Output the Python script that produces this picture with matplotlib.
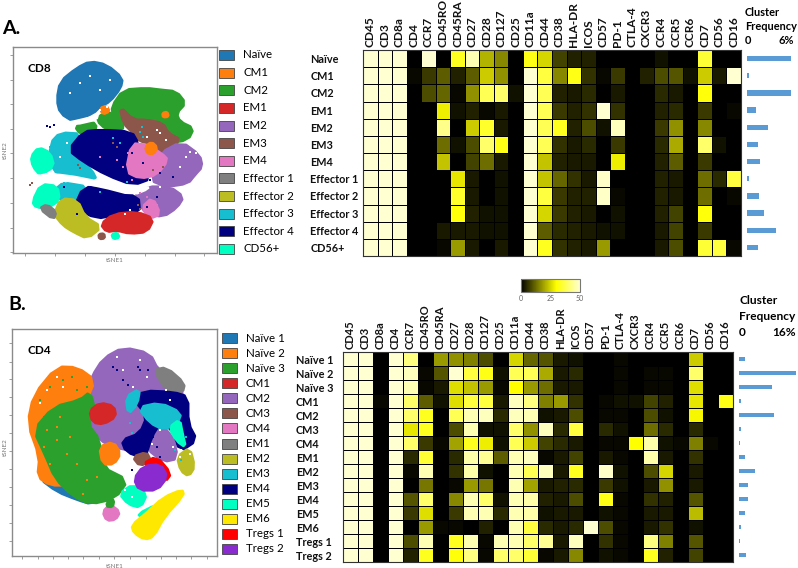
import numpy as np
import matplotlib
matplotlib.use('Agg')
import matplotlib.pyplot as plt
from matplotlib.colors import LinearSegmentedColormap
from matplotlib.cm import ScalarMappable
from matplotlib.colors import Normalize
from matplotlib.patches import Rectangle

plt.rcParams['font.family'] = ['Lato', 'DejaVu Sans']

W, H = 798, 568

markers = ['CD45', 'CD3', 'CD8a', 'CD4', 'CCR7', 'CD45RO', 'CD45RA', 'CD27', 'CD28', 'CD127', 'CD25',
           'CD11a', 'CD44', 'CD38', 'HLA-DR', 'ICOS', 'CD57', 'PD-1', 'CTLA-4', 'CXCR3', 'CCR4', 'CCR5',
           'CCR6', 'CD7', 'CD56', 'CD16']

cd8_names = ['Naïve', 'CM1', 'CM2', 'EM1', 'EM2', 'EM3', 'EM4', 'Effector 1', 'Effector 2', 'Effector 3',
             'Effector 4', 'CD56+']
cd8_colors = ['#1f77b4', '#ff7f0e', '#2ca02c', '#d62728', '#9467bd', '#8c564b', '#e377c2', '#7f7f7f',
              '#bcbd22', '#17becf', '#000080', '#00ffc0']
cd8_heat = [
    [50, 50, 50, 0, 50, 0, 33, 47, 21, 16, 0, 32, 25, 8, 4, 4, 0, 0, 0, 0, 2, 0, 0, 35, 0, 0],
    [50, 50, 50, 1, 7, 11, 4, 11, 24, 17, 0, 50, 36, 16, 32, 6, 1, 7, 0, 4, 9, 10, 2, 24, 3, 50],
    [50, 50, 50, 0, 9, 12, 1, 17, 38, 40, 2, 50, 38, 4, 3, 5, 0, 3, 0, 0, 5, 3, 0, 31, 0, 0],
    [50, 50, 50, 0, 0, 28, 2, 4, 1, 3, 0, 50, 38, 7, 4, 6, 50, 6, 0, 0, 4, 5, 0, 7, 0, 1],
    [50, 50, 50, 0, 0, 43, 0, 24, 34, 3, 0, 50, 38, 33, 4, 9, 2, 48, 0, 0, 7, 17, 0, 16, 0, 0],
    [50, 50, 50, 0, 0, 13, 2, 9, 40, 32, 0, 50, 38, 6, 3, 5, 0, 7, 0, 0, 5, 20, 0, 40, 2, 0],
    [50, 50, 50, 0, 0, 23, 0, 8, 13, 3, 0, 50, 23, 4, 3, 3, 0, 28, 0, 0, 4, 11, 0, 7, 0, 0],
    [50, 50, 50, 0, 0, 0, 27, 3, 0, 2, 0, 50, 23, 12, 6, 3, 49, 0, 0, 0, 4, 3, 0, 13, 5, 36],
    [50, 50, 50, 0, 0, 0, 34, 3, 0, 2, 0, 50, 36, 7, 4, 4, 49, 1, 0, 0, 4, 3, 0, 13, 0, 1],
    [50, 50, 50, 0, 0, 0, 31, 4, 2, 2, 0, 50, 25, 7, 4, 3, 0, 2, 0, 0, 4, 8, 0, 31, 0, 0],
    [50, 50, 50, 0, 0, 3, 3, 3, 2, 2, 0, 50, 11, 5, 4, 3, 2, 2, 0, 0, 3, 8, 0, 7, 0, 0],
    [50, 50, 50, 0, 0, 1, 18, 3, 0, 3, 0, 50, 33, 6, 4, 3, 18, 0, 0, 0, 3, 9, 0, 35, 36, 1],
]
cd8_freq = [5.8, 0.3, 5.9, 1.2, 2.8, 1.5, 1.7, 0.3, 1.6, 2.3, 3.9, 1.5]

cd4_names = ['Naïve 1', 'Naïve 2', 'Naïve 3', 'CM1', 'CM2', 'CM3', 'CM4', 'EM1', 'EM2', 'EM3', 'EM4', 'EM5',
             'EM6', 'Tregs 1', 'Tregs 2']
cd4_colors = ['#1f77b4', '#ff7f0e', '#2ca02c', '#d62728', '#9467bd', '#8c564b', '#e377c2', '#7f7f7f',
              '#bcbd22', '#17becf', '#000080', '#00ffc0', '#ffe800', '#ff0000', '#8a2bd0']
cd4_heat = [
    [50, 50, 0, 50, 42, 0, 18, 17, 15, 9, 0, 25, 12, 10, 3, 2, 0, 0, 1, 0, 0, 0, 0, 24, 0, 0],
    [50, 50, 0, 50, 48, 1, 10, 50, 36, 32, 2, 38, 38, 20, 3, 5, 0, 0, 1, 0, 1, 1, 0, 40, 0, 0],
    [50, 50, 0, 50, 47, 1, 3, 26, 23, 18, 1, 30, 18, 13, 3, 3, 0, 0, 1, 0, 1, 1, 0, 26, 0, 0],
    [50, 50, 1, 50, 40, 11, 2, 26, 36, 36, 3, 48, 42, 15, 18, 6, 0, 1, 2, 2, 8, 4, 0, 27, 0, 32],
    [50, 50, 0, 50, 40, 33, 0, 38, 47, 48, 5, 48, 47, 2, 3, 9, 0, 1, 1, 0, 9, 2, 0, 29, 0, 0],
    [50, 50, 0, 50, 27, 33, 0, 9, 47, 2, 2, 40, 17, 48, 5, 36, 0, 5, 2, 0, 13, 5, 0, 5, 0, 0],
    [50, 50, 0, 50, 40, 7, 1, 19, 33, 28, 2, 38, 24, 8, 5, 3, 0, 1, 1, 30, 46, 2, 1, 15, 1, 0],
    [50, 50, 0, 50, 5, 35, 0, 5, 46, 44, 11, 47, 48, 1, 3, 8, 0, 3, 1, 0, 46, 3, 0, 6, 0, 0],
    [50, 50, 0, 50, 1, 47, 0, 6, 46, 2, 0, 47, 38, 48, 3, 33, 0, 49, 2, 0, 9, 25, 0, 3, 0, 0],
    [50, 50, 0, 50, 0, 14, 0, 1, 18, 14, 0, 47, 19, 3, 4, 5, 0, 7, 2, 0, 3, 17, 0, 3, 0, 0],
    [50, 50, 0, 50, 10, 40, 0, 16, 47, 40, 2, 47, 46, 4, 3, 9, 0, 32, 1, 0, 6, 4, 0, 10, 0, 0],
    [50, 50, 0, 50, 7, 26, 0, 7, 47, 47, 5, 47, 46, 2, 3, 3, 0, 2, 1, 0, 3, 3, 0, 22, 0, 0],
    [50, 50, 0, 50, 0, 18, 1, 1, 0, 4, 0, 47, 36, 5, 3, 5, 50, 9, 1, 0, 3, 6, 0, 2, 0, 0],
    [50, 50, 0, 50, 9, 47, 0, 33, 47, 1, 47, 47, 40, 44, 3, 48, 0, 6, 1, 0, 42, 15, 0, 10, 0, 0],
    [50, 50, 0, 50, 4, 33, 0, 31, 42, 1, 40, 40, 35, 1, 3, 16, 0, 2, 1, 0, 33, 4, 0, 8, 0, 0],
]
cd4_freq = [1.7, 16, 9.3, 0.6, 9.9, 0.6, 0.4, 1.8, 4.6, 2.4, 2.6, 1.8, 0.6, 0.4, 1.9]

# tSNE cluster outlines, (colour name, outline), back to front
cd8_regions = [
    ('Naïve', [(170, 270), (180, 215), (230, 175), (270, 155), (320, 165), (368, 205), (362, 235), (330, 275),
               (300, 290), (280, 310), (220, 335), (180, 310)]),
    ('CM2', [(335, 290), (370, 240), (440, 235), (480, 240), (530, 245), (558, 280), (530, 310), (540, 335),
             (582, 355), (565, 390), (500, 400), (480, 360), (440, 335), (390, 330), (340, 320)]),
    ('CM2', [(225, 350), (255, 338), (290, 340), (282, 375), (240, 372)]),
    ('CM2', [(290, 320), (340, 305), (378, 350), (340, 368), (300, 345)]),
    ('EM3', [(360, 290), (400, 330), (440, 330), (490, 340), (505, 370), (545, 390), (490, 435), (460, 400),
             (420, 395), (400, 370), (370, 340)]),
    ('Effector 3', [(150, 400), (180, 368), (245, 372), (225, 430), (275, 480), (290, 510), (220, 505), (150, 480)]),
    ('Effector 4', [(205, 420), (250, 365), (300, 360), (395, 365), (415, 400), (415, 450), (455, 505), (400, 525),
                    (320, 495), (250, 455)]),
    ('EM2', [(450, 510), (480, 430), (545, 395), (600, 435), (608, 470), (585, 495), (565, 520), (500, 530)]),
    ('EM4', [(378, 485), (395, 400), (440, 405), (485, 430), (505, 450), (470, 495), (420, 505)]),
    ('CD56+', [(92, 440), (115, 412), (150, 428), (162, 470), (120, 495), (98, 470)]),
    ('Effector 3', [(165, 525), (240, 515), (260, 545), (225, 580), (175, 570)]),
    ('CD56+', [(96, 575), (122, 522), (172, 528), (178, 570), (145, 592), (108, 592)]),
    ('EM2', [(400, 560), (440, 530), (510, 530), (552, 560), (532, 592), (490, 620), (440, 610)]),
    ('Effector 4', [(222, 592), (250, 530), (310, 535), (415, 555), (420, 610), (340, 615), (290, 625)]),
    ('EM4', [(425, 592), (458, 562), (482, 612), (450, 625)]),
    ('Effector 2', [(162, 612), (182, 565), (232, 570), (255, 620), (305, 650), (262, 685), (220, 665), (188, 645)]),
    ('Effector 1', [(118, 595), (140, 583), (168, 605), (160, 628)]),
    ('EM1', [(302, 642), (340, 612), (410, 605), (462, 625), (442, 665), (390, 670), (350, 660), (320, 665)]),
    ('CM1', [(300, 295), (320, 288), (328, 305), (308, 313)]),
    ('CM1', [(436, 410), (455, 396), (472, 412), (462, 432), (442, 430)]),
    ('CM1', [(488, 310), (502, 306), (506, 320), (490, 322)]),
    ('CD56+', [(335, 672), (352, 668), (358, 682), (340, 686)]),
    ('EM3', [(296, 672), (312, 670), (314, 684), (298, 686)]),
]
cd8_gaps = [
    [(120, 488), (200, 492), (300, 512), (400, 542), (445, 525), (450, 538), (400, 558), (300, 532), (200, 515),
     (130, 505)],
    [(190, 338), (260, 322), (298, 312), (292, 332), (222, 348)],
]
# stray points scattered over other clusters
cd8_specks = {
    'Effector 4': ([140, 150, 160, 480, 450, 520, 430, 395, 370, 350, 415, 230, 190, 470, 440],
                   [348, 352, 345, 490, 510, 500, 460, 430, 590, 600, 575, 610, 530, 560, 590]),
    'Effector 3': ([420, 430, 425, 340, 360, 190, 205, 150, 160, 380, 300],
                   [365, 380, 350, 385, 400, 520, 540, 410, 430, 515, 545]),
    'EM4': ([350, 370, 385, 420, 300, 470, 395, 440], [450, 470, 430, 550, 440, 585, 510, 560]),
    'EM3': ([340, 350, 235, 240, 95, 90, 490, 460, 415, 420], [400, 410, 465, 475, 518, 525, 470, 480, 585, 595]),
    'white': ([240, 270, 300, 210, 330, 480, 500, 440, 470, 560, 570, 590, 300, 320, 180, 200, 175, 480, 375, 390, 540],
              [220, 200, 240, 250, 210, 370, 390, 380, 360, 440, 425, 430, 300, 290, 440, 400, 520, 530, 610, 600, 470]),
}

cd4_regions = [
    ('Naïve 1', [(118, 565), (170, 552), (200, 590), (275, 622), (275, 642), (230, 628), (170, 604)]),
    ('CM2', [(275, 260), (310, 205), (370, 172), (450, 190), (475, 240), (545, 295), (550, 330), (450, 350),
             (420, 440), (385, 480), (340, 470), (300, 450), (260, 400), (270, 340), (250, 330)]),
    ('Naïve 2', [(82, 400), (100, 315), (170, 230), (232, 232), (285, 270), (255, 340), (200, 420), (170, 520),
                 (205, 585), (150, 585), (112, 560), (118, 500)]),
    ('Naïve 3', [(100, 420), (160, 350), (240, 330), (270, 305), (285, 360), (262, 400), (300, 450), (305, 530),
                 (385, 570), (345, 625), (270, 642), (215, 615), (165, 565), (135, 495)]),
    ('EM1', [(462, 240), (500, 232), (555, 280), (548, 308), (500, 302)]),
    ('CM1', [(268, 362), (300, 338), (342, 348), (348, 380), (310, 402), (278, 397)]),
    ('Naïve 2', [(298, 470), (340, 455), (362, 490), (342, 522), (308, 522)]),
    ('CM2', [(440, 475), (455, 405), (515, 425), (535, 505), (490, 515)]),
    ('EM4', [(405, 332), (430, 302), (520, 306), (565, 320), (565, 400), (592, 450), (540, 485), (520, 420),
             (480, 400), (455, 440), (435, 505), (378, 485), (365, 450), (420, 430), (442, 378)]),
    ('EM3', [(415, 352), (480, 338), (545, 368), (532, 402), (490, 418), (450, 398)]),
    ('EM3', [(378, 320), (420, 296), (412, 342), (385, 372)]),
    ('EM5', [(508, 412), (540, 388), (548, 430), (558, 472), (530, 452)]),
    ('EM5', [(358, 610), (400, 582), (442, 610), (422, 652), (385, 642)]),
    ('EM2', [(532, 500), (570, 472), (585, 530), (567, 558), (543, 542)]),
    ('CM3', [(398, 500), (440, 486), (452, 510), (420, 528)]),
    ('Tregs 1', [(428, 522), (470, 498), (514, 550), (497, 574), (470, 528)]),
    ('Tregs 2', [(402, 566), (430, 528), (482, 522), (503, 560), (472, 600), (418, 600)]),
    ('CM4', [(308, 665), (330, 642), (360, 665), (347, 688), (320, 691)]),
    ('Naïve 3', [(318, 648), (328, 625), (342, 630), (338, 650)]),
    ('EM5', [(413, 672), (470, 643), (482, 655), (430, 682)]),
    ('EM6', [(395, 705), (440, 668), (490, 622), (547, 598), (552, 615), (492, 682), (462, 738), (435, 748),
             (402, 728)]),
]
cd4_gaps = [
    [(363, 510), (385, 498), (392, 527), (370, 532)],
]
cd4_specks = {
    'EM4': ([340, 350, 415, 420, 370, 385, 460, 470, 445, 480, 395], [230, 240, 230, 240, 270, 285, 440, 470, 240, 500, 540]),
    'Naïve 2': ([140, 170, 200, 230, 260, 130, 150, 180, 290, 250, 210, 170],
                [420, 450, 490, 520, 570, 470, 520, 380, 560, 610, 440, 410]),
    'Naïve 3': ([120, 150, 190, 230, 215, 255, 130, 260], [330, 290, 270, 300, 260, 320, 380, 290]),
    'EM3': ([390, 395, 525, 545, 560], [400, 430, 480, 510, 440]),
    'white': ([140, 170, 190, 120, 350, 370, 420, 440, 400, 500, 510, 540, 480, 455, 520, 545, 570, 375, 395, 400],
              [300, 260, 290, 340, 200, 240, 210, 260, 290, 300, 330, 500, 420, 460, 470, 480, 490, 600, 620, 560]),
}

heat_cmap = LinearSegmentedColormap.from_list('heat', [(0, '#000000'), (0.6, '#ffff00'), (1, '#ffffd2')])


def px_axes(fig, x0, y0, x1, y1, **kw):
    # axes from pixel box, y counted from the top like in the image
    return fig.add_axes([x0 / W, 1 - y1 / H, (x1 - x0) / W, (y1 - y0) / H], **kw)


def smooth(points, n=1):
    # corner cutting so the blobs are not angular
    p = np.array(points, dtype=float)
    for _ in range(n):
        q = np.roll(p, -1, axis=0)
        p = np.column_stack([0.75 * p + 0.25 * q, 0.25 * p + 0.75 * q]).reshape(-1, 2)
    return p


def draw_map(ax, regions, gaps, specks, names, colors, xlim, ylim, xticks, yticks):
    lookup = dict(zip(names, colors))
    lookup['white'] = 'white'
    for name, outline in regions:
        p = smooth(outline)
        ax.fill(p[:, 0], p[:, 1], color=lookup[name], lw=2, joinstyle='round')
    for outline in gaps:
        p = smooth(outline)
        ax.fill(p[:, 0], p[:, 1], color='white', lw=0)
    for name, (xs, ys) in specks.items():
        ax.scatter(xs, ys, s=1.6, color=lookup[name], lw=0, marker='s')
    ax.set_xlim(xlim)
    ax.set_ylim(ylim)
    ax.set_xticks(xticks)
    ax.set_yticks(yticks)
    ax.set_xticklabels([])
    ax.set_yticklabels([])
    ax.tick_params(length=2.5, width=0.5, color='#777777')
    for s in ax.spines.values():
        s.set_color('#8a8a8a')
        s.set_linewidth(1)


def draw_heat(ax, values, rows, pad, size):
    ax.pcolormesh(values, cmap=heat_cmap, vmin=0, vmax=50, edgecolors='#000000', linewidth=0.5)
    ax.set_ylim(len(rows), 0)
    ax.set_xticks(np.arange(len(markers)) + 0.5)
    ax.set_xticklabels(markers, rotation=90, fontsize=size, fontweight='bold', color='#111111')
    ax.xaxis.tick_top()
    ax.set_yticks(np.arange(len(rows)) + 0.5)
    ax.set_yticklabels(rows, fontsize=7.8, fontweight='bold', ha='left', color='#111111')
    ax.tick_params(axis='x', length=0, pad=2)
    ax.tick_params(axis='y', length=0, pad=pad)
    for s in ax.spines.values():
        s.set_color('#333333')


def draw_freq(ax, freq, vmax, height):
    ax.barh(np.arange(len(freq)) + 0.5, freq, height=height, color='#5b9bd5')
    ax.set_xlim(0, vmax)
    ax.set_ylim(len(freq), 0)
    ax.axis('off')


fig = plt.figure(figsize=(W / 100, H / 100), dpi=100)

# maps, tSNE units are the reading grid of the crop
ax = px_axes(fig, 13, 47, 217, 253)
draw_map(ax, cd8_regions, cd8_gaps, cd8_specks, cd8_names, cd8_colors, (38, 652), (728, 112),
         [75, 165, 255, 345, 435, 525, 613], [137, 210, 283, 357, 430, 505, 578, 652, 725])
ax = px_axes(fig, 12, 329, 217, 556)
draw_map(ax, cd4_regions, cd4_gaps, cd4_specks, cd4_names, cd4_colors, (35, 652), (797, 117),
         [65, 112, 158, 205, 250, 296, 343, 390, 437, 483, 530, 575, 622],
         [160, 215, 268, 322, 376, 430, 483, 537, 591, 645, 698, 752])

# heatmaps and bars
ax = px_axes(fig, 363, 50, 741, 256)
draw_heat(ax, cd8_heat, cd8_names, 38, 8.6)
ax = px_axes(fig, 343, 352, 733, 562)
draw_heat(ax, cd4_heat, cd4_names, 34, 8.0)
ax = px_axes(fig, 747, 50, 792, 256)
draw_freq(ax, cd8_freq, 6, 0.32)
ax = px_axes(fig, 739, 352, 796, 562)
draw_freq(ax, cd4_freq, 16, 0.3)

# colour key
cax = px_axes(fig, 521, 279, 580, 292)
cb = fig.colorbar(ScalarMappable(Normalize(0, 50), heat_cmap), cax=cax, orientation='horizontal')
cb.set_ticks([0, 25, 50])
cb.ax.tick_params(labelsize=5, length=0, pad=2, labelcolor='#666666')
cb.outline.set_edgecolor('#777777')

# everything else goes on a pixel overlay
ov = fig.add_axes([0, 0, 1, 1], zorder=5)
ov.set_xlim(0, W)
ov.set_ylim(H, 0)
ov.axis('off')


def legend(names, colors, x, y0, y1, fontsize):
    for name, color, y in zip(names, colors, np.linspace(y0, y1, len(names))):
        ov.add_patch(Rectangle((x, y - 5), 14.5, 10, facecolor=color, edgecolor='#444444', lw=0.6))
        ov.text(x + 24, y, name, fontsize=fontsize, va='center', color='#000000')


legend(cd8_names, cd8_colors, 219, 55, 249, 8.3)
legend(cd4_names, cd4_colors, 222, 338, 549, 8.3)

ov.text(2, 29, 'A.', fontsize=14, fontweight='bold', va='center')
ov.text(8, 305, 'B.', fontsize=14, fontweight='bold', va='center')
ov.text(27, 68, 'CD8', fontsize=8.5, fontweight='bold', va='center')
ov.text(27, 350, 'CD4', fontsize=8.5, fontweight='bold', va='center')
ov.text(115, 261, 'tSNE1', fontsize=4.5, color='#777777', ha='center', va='center')
ov.text(5, 150, 'tSNE2', fontsize=4.5, color='#777777', rotation=90, ha='center', va='center')
ov.text(115, 566, 'tSNE1', fontsize=4.5, color='#777777', ha='center', va='center')
ov.text(5, 447, 'tSNE2', fontsize=4.5, color='#777777', rotation=90, ha='center', va='center')

for x, x2, ys, top, fs in [(745, 794, (12, 27, 41), '6%', 7.9), (739, 796, (300, 316, 333), '16%', 8.6)]:
    ov.text(x, ys[0], 'Cluster', fontsize=fs, fontweight='bold', va='center')
    ov.text(x, ys[1], 'Frequency', fontsize=fs, fontweight='bold', va='center')
    ov.text(x, ys[2], '0', fontsize=fs, fontweight='bold', va='center')
    ov.text(x2, ys[2], top, fontsize=fs, fontweight='bold', va='center', ha='right')

fig.savefig('out.png', dpi=100)
